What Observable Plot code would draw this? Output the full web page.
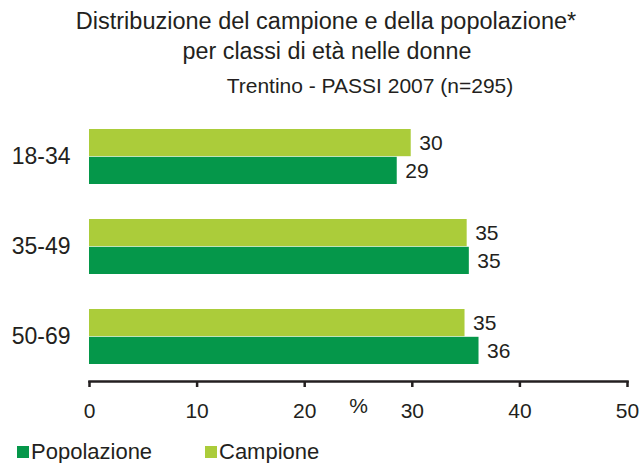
<!DOCTYPE html>
<html>
<head>
<meta charset="utf-8">
<script src="https://cdn.jsdelivr.net/npm/d3@7"></script>
<script src="https://cdn.jsdelivr.net/npm/@observablehq/plot@0.6"></script>
<style>
  html, body { margin: 0; padding: 0; background: #fff; }
  body { width: 640px; height: 463px; position: relative; overflow: hidden; font-family: "Liberation Sans", Arial, sans-serif; color: #231f20; }
  .t { position: absolute; white-space: nowrap; line-height: 1; }
  #chart { position: absolute; left: 0; top: 0; }
  #chart svg { font-family: "Liberation Sans", Arial, sans-serif; }
  g[aria-label^="x-axis"] text { font-size: 21px; fill: #231f20; }
  g[aria-label="x-axis tick"] path { stroke-width: 2.5px; stroke: #231f20; }
  g[aria-label^="y-axis"] text { font-size: 23px; fill: #231f20; }
  .legend { position: absolute; top: 441px; font-size: 22px; line-height: 1; display: flex; align-items: center; }
  .sw { display: inline-block; width: 12px; height: 12px; margin-right: 2px; }
</style>
</head>
<body>
<div class="t" id="t1" style="font-size:23.5px; left:0; width:652px; text-align:center; top:10px;">Distribuzione del campione e della popolazione*</div>
<div class="t" id="t2" style="font-size:23.3px; left:0; width:654px; text-align:center; top:40px;">per classi di età nelle donne</div>
<div class="t" id="t3" style="font-size:21px; left:0; width:740px; text-align:center; top:75px;">Trentino - PASSI 2007 (n=295)</div>
<div id="chart"></div>
<div class="legend" style="left:17px;"><span class="sw" style="background:#05974a"></span>Popolazione</div>
<div class="legend" style="left:205px;"><span class="sw" style="background:#abcc3a"></span>Campione</div>
<script>
const categories = ["18-34", "35-49", "50-69"];
const campione = [29.9, 35.1, 34.9];
const popolazione = [28.6, 35.3, 36.2];
const campioneLabels = ["30", "35", "35"];
const popolazioneLabels = ["29", "35", "36"];
const xTicks = [0, 10, 20, 30, 40, 50];

const colCamp = "#abcc3a";
const colPop = "#05974a";

const mt = 112, mb = 82, H = 463;
const pIn = 0.385, pOut = 0.18;
const step = (H - mt - mb) / (categories.length - pIn + 2 * pOut);
const bw = step * (1 - pIn);

const campData = categories.map((c, i) => ({cat: c, value: campione[i], label: campioneLabels[i]}));
const popData = categories.map((c, i) => ({cat: c, value: popolazione[i], label: popolazioneLabels[i]}));

const plot = Plot.plot({
  width: 640,
  height: H,
  marginTop: mt,
  marginBottom: mb,
  marginLeft: 89,
  marginRight: 13,
  style: {background: "transparent", color: "#231f20"},
  x: {domain: [0, 50], ticks: xTicks, tickFormat: d => d, tickSize: 6, tickPadding: 16, label: null},
  y: {domain: categories, paddingInner: pIn, paddingOuter: pOut, tickSize: 0, tickPadding: 19, label: null},
  marks: [
    Plot.barX(campData, {x: "value", y: "cat", fill: colCamp, insetBottom: bw / 2}),
    Plot.barX(popData, {x: "value", y: "cat", fill: colPop, insetTop: bw / 2}),
    Plot.frame({anchor: "bottom", stroke: "#231f20", strokeWidth: 2.5}),
    Plot.text(campData, {x: "value", y: "cat", text: "label", dy: -bw / 4, dx: 8, textAnchor: "start", fontSize: 21, fill: "#231f20"}),
    Plot.text(popData, {x: "value", y: "cat", text: "label", dy: bw / 4, dx: 8, textAnchor: "start", fontSize: 21, fill: "#231f20"}),
    Plot.text(["%"], {x: () => 25, frameAnchor: "bottom", dy: 31, text: d => d, fontSize: 21, fill: "#231f20"})
  ]
});
document.getElementById("chart").appendChild(plot);
</script>
</body>
</html>
